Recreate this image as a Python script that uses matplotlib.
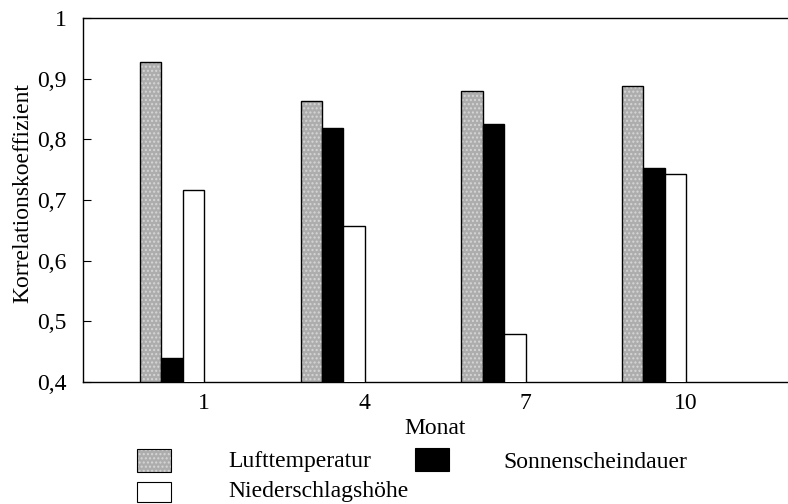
import matplotlib.pyplot as plt
import matplotlib.patches as mpatches
import numpy as np

# Werte
monate = ['1', '4', '7', '10']
lufttemperatur = [0.927, 0.864, 0.880, 0.888]
sonnenscheindauer = [0.440, 0.818, 0.826, 0.753]
niederschlag = [0.717, 0.657, 0.479, 0.743]

namen = ['Lufttemperatur', 'Sonnenscheindauer', 'Niederschlagshöhe']

plt.rcParams['font.family'] = ['Liberation Serif', 'DejaVu Serif']
fs = 17
plt.rcParams['font.size'] = fs

fig = plt.figure(figsize=(7.88, 5.04), dpi=100)
ax = fig.add_axes([83 / 788, 1 - 382 / 504, 1 - 83 / 788, 364 / 504])

pos = np.arange(len(monate)) * 3
breite = 0.4
grau = '#adadad'

# Lufttemperatur: grau gepunktet, Umriss schwarz
ax.bar(pos - breite, lufttemperatur, breite, color=grau,
       hatch='....', edgecolor='#d6d6d6', linewidth=0, zorder=2)
ax.bar(pos - breite, lufttemperatur, breite, fill=False,
       edgecolor='black', linewidth=1.0, zorder=3)
ax.bar(pos, sonnenscheindauer, breite, color='black',
       edgecolor='black', linewidth=1.0, zorder=3)
ax.bar(pos + breite, niederschlag, breite, color='white',
       edgecolor='black', linewidth=1.0, zorder=3)

ax.set_ylim(0.4, 1.0)
ax.set_xlim(-1.66, 11.5)
ax.set_yticks([0.4, 0.5, 0.6, 0.7, 0.8, 0.9, 1.0])
ax.set_yticklabels(['0,4', '0,5', '0,6', '0,7', '0,8', '0,9', '1'])
ax.set_xticks(pos + 1.5 * breite)
ax.set_xticklabels(monate)
ax.tick_params(axis='y', direction='in', length=6, pad=12, labelsize=fs)
ax.tick_params(axis='x', length=0, pad=8, labelsize=fs)

ax.spines['right'].set_visible(False)
for s in ['left', 'top', 'bottom']:
    ax.spines[s].set_linewidth(1.0)

ax.set_ylabel('Korrelationskoeffizient', fontsize=fs)
ax.yaxis.set_label_coords(-0.071, 0.52)
ax.set_xlabel('Monat', fontsize=fs)
ax.xaxis.set_label_coords(0.5, -0.1)

# Legende von Hand, wie im Original angeordnet
def legend_patch(x, y, h, **kw):
    r = mpatches.Rectangle((x / 788, 1 - y / 504), 34 / 788, h / 504,
                           transform=fig.transFigure, **kw)
    fig.patches.append(r)

legend_patch(137, 472, 23, facecolor=grau, hatch='....', edgecolor='#d6d6d6', linewidth=0)
legend_patch(137, 472, 23, fill=False, edgecolor='black', linewidth=0.8)
legend_patch(415, 471, 23, facecolor='black', edgecolor='black', linewidth=0.8)
legend_patch(137, 502, 20, facecolor='white', edgecolor='black', linewidth=0.8)

fig.text(228 / 788, 1 - 462 / 504, namen[0], va='center', ha='left', fontsize=fs)
fig.text(503 / 788, 1 - 462 / 504, namen[1], va='center', ha='left', fontsize=fs)
fig.text(228 / 788, 1 - 491 / 504, namen[2], va='center', ha='left', fontsize=fs)

fig.savefig('out.png', dpi=100)
